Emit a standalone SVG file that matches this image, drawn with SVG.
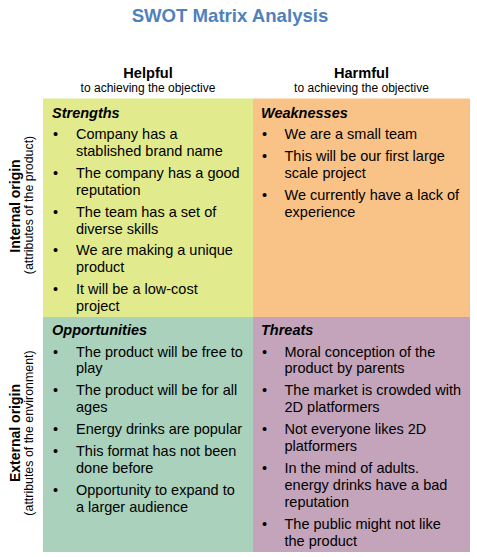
<svg xmlns="http://www.w3.org/2000/svg" width="477" height="557" viewBox="0 0 477 557">
  <style>
    text { font-family: "Liberation Sans", Arial, sans-serif; fill: #000; }
    .title { font-size: 18.6px; font-weight: bold; fill: #4f81bd; text-anchor: middle; }
    .colhead { font-size: 14.6px; font-weight: bold; text-anchor: middle; }
    .colsub { font-size: 12px; text-anchor: middle; }
    .rowhead { font-size: 14px; font-weight: bold; text-anchor: middle; }
    .rowsub { font-size: 12.4px; text-anchor: middle; }
    .qhead { font-size: 14.5px; font-weight: bold; font-style: italic; }
    .item { font-size: 14.5px; }
    .s { fill: #e1ea8c; }
    .w { fill: #f9c388; }
    .o { fill: #a9d1bb; }
    .t { fill: #c3a4ba; }
  </style>

  <!-- Title -->
  <text class="title" x="230" y="21.5">SWOT Matrix Analysis</text>

  <!-- Column headings -->
  <g id="col-helpful">
    <text class="colhead" x="148" y="77.5">Helpful</text>
    <text class="colsub" x="148" y="91.5">to achieving the objective</text>
  </g>
  <g id="col-harmful">
    <text class="colhead" x="361.5" y="77.5">Harmful</text>
    <text class="colsub" x="361.5" y="91.5">to achieving the objective</text>
  </g>

  <!-- Row headings (rotated) -->
  <g id="row-internal">
    <text class="rowhead" transform="translate(19.5,206) rotate(-90)">Internal origin</text>
    <text class="rowsub" transform="translate(33,205) rotate(-90)">(attributes of the product)</text>
  </g>
  <g id="row-external">
    <text class="rowhead" transform="translate(19.5,433) rotate(-90)">External origin</text>
    <text class="rowsub" transform="translate(33,433) rotate(-90)">(attributes of the environment)</text>
  </g>

  <!-- Strengths -->
  <g id="strengths">
    <rect class="s" x="43" y="98.5" width="210" height="218.5"/>
    <text class="qhead" x="52" y="117.5">Strengths</text>
    <text class="item">
      <tspan x="53" y="139">•</tspan><tspan x="76" y="139">Company has a</tspan>
      <tspan x="76" y="155.9">stablished brand name</tspan>
      <tspan x="53" y="177.8">•</tspan><tspan x="76" y="177.8">The company has a good</tspan>
      <tspan x="76" y="194.7">reputation</tspan>
      <tspan x="53" y="216.6">•</tspan><tspan x="76" y="216.6">The team has a set of</tspan>
      <tspan x="76" y="233.5">diverse skills</tspan>
      <tspan x="53" y="255.4">•</tspan><tspan x="76" y="255.4">We are making a unique</tspan>
      <tspan x="76" y="272.3">product</tspan>
      <tspan x="53" y="294.2">•</tspan><tspan x="76" y="294.2">It will be a low-cost</tspan>
      <tspan x="76" y="311.1">project</tspan>
    </text>
  </g>

  <!-- Weaknesses -->
  <g id="weaknesses">
    <rect class="w" x="253" y="98.5" width="217" height="218.5"/>
    <text class="qhead" x="261" y="117.5">Weaknesses</text>
    <text class="item">
      <tspan x="262" y="139">•</tspan><tspan x="284.5" y="139">We are a small team</tspan>
      <tspan x="262" y="160.9">•</tspan><tspan x="284.5" y="160.9">This will be our first large</tspan>
      <tspan x="284.5" y="177.8">scale project</tspan>
      <tspan x="262" y="199.7">•</tspan><tspan x="284.5" y="199.7">We currently have a lack of</tspan>
      <tspan x="284.5" y="216.6">experience</tspan>
    </text>
  </g>

  <!-- Opportunities -->
  <g id="opportunities">
    <rect class="o" x="43" y="317" width="210" height="235"/>
    <text class="qhead" x="52" y="334.5">Opportunities</text>
    <text class="item">
      <tspan x="53" y="356.5">•</tspan><tspan x="76" y="356.5">The product will be free to</tspan>
      <tspan x="76" y="373.4">play</tspan>
      <tspan x="53" y="395.3">•</tspan><tspan x="76" y="395.3">The product will be for all</tspan>
      <tspan x="76" y="412.2">ages</tspan>
      <tspan x="53" y="434.1">•</tspan><tspan x="76" y="434.1">Energy drinks are popular</tspan>
      <tspan x="53" y="456">•</tspan><tspan x="76" y="456">This format has not been</tspan>
      <tspan x="76" y="472.9">done before</tspan>
      <tspan x="53" y="494.8">•</tspan><tspan x="76" y="494.8">Opportunity to expand to</tspan>
      <tspan x="76" y="511.7">a larger audience</tspan>
    </text>
  </g>

  <!-- Threats -->
  <g id="threats">
    <rect class="t" x="253" y="317" width="217" height="235"/>
    <text class="qhead" x="261" y="334.5">Threats</text>
    <text class="item">
      <tspan x="262" y="356.5">•</tspan><tspan x="284.5" y="356.5">Moral conception of the</tspan>
      <tspan x="284.5" y="373.4">product by parents</tspan>
      <tspan x="262" y="395.3">•</tspan><tspan x="284.5" y="395.3">The market is crowded with</tspan>
      <tspan x="284.5" y="412.2">2D platformers</tspan>
      <tspan x="262" y="434.1">•</tspan><tspan x="284.5" y="434.1">Not everyone likes 2D</tspan>
      <tspan x="284.5" y="451">platformers</tspan>
      <tspan x="262" y="472.9">•</tspan><tspan x="284.5" y="472.9">In the mind of adults.</tspan>
      <tspan x="284.5" y="489.8">energy drinks have a bad</tspan>
      <tspan x="284.5" y="506.7">reputation</tspan>
      <tspan x="262" y="528.6">•</tspan><tspan x="284.5" y="528.6">The public might not like</tspan>
      <tspan x="284.5" y="545.5">the product</tspan>
    </text>
  </g>
</svg>
